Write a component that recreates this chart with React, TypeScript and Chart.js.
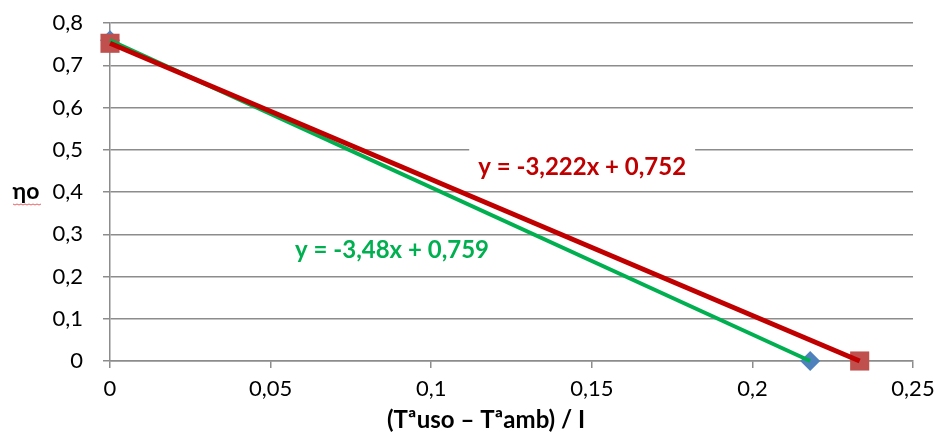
import React, { useEffect, useRef } from "react";
import { Chart, registerables } from "chart.js";

Chart.register(...registerables);

// Measured points (series 1: blue diamonds, series 2: red squares)
const blueX = [0, 0.218];
const blueY = [0.759, 0];
const redX = [0, 0.2334];
const redY = [0.752, 0];

// Linear trendlines (endpoints)
const greenLineX = [0, 0.218];
const greenLineY = [0.759, 0];
const redLineX = [0, 0.2334];
const redLineY = [0.752, 0];

const redEquation = "y = -3,222x + 0,752";
const greenEquation = "y = -3,48x + 0,759";
const redEqPos = [0.147, 0.459];
const greenEqPos = [0.0878, 0.263];

const xTitle = "(Tªuso – Tªamb) / I";
const yTitle = "ηo";

const FONT = "Lato, 'Liberation Sans', sans-serif";

const pts = (xs: number[], ys: number[]) => xs.map((x, i) => ({ x, y: ys[i] }));

const overlayPlugin = {
  id: "overlay",
  afterDatasetsDraw(chart: any) {
    const ctx = chart.ctx;
    const xs = chart.scales.x;
    const ys = chart.scales.y;
    ctx.save();
    // red equation with white box
    const rx = xs.getPixelForValue(redEqPos[0]);
    const ry = ys.getPixelForValue(redEqPos[1]);
    ctx.font = `bold 24px ${FONT}`;
    const rw = ctx.measureText(redEquation).width;
    ctx.fillStyle = "#ffffff";
    ctx.fillRect(rx - rw / 2 - 9, ry - 20, rw + 18, 38);
    ctx.fillStyle = "#c00000";
    ctx.textAlign = "center";
    ctx.textBaseline = "middle";
    ctx.fillText(redEquation, rx, ry);
    // green equation
    const gx = xs.getPixelForValue(greenEqPos[0]);
    const gy = ys.getPixelForValue(greenEqPos[1]);
    ctx.fillStyle = "#00b050";
    ctx.fillText(greenEquation, gx, gy);
    // y title (horizontal)
    ctx.fillStyle = "#000000";
    ctx.font = `bold 23px ${FONT}`;
    ctx.fillText(yTitle, 26, 192);
    // x title
    ctx.font = `bold 24px ${FONT}`;
    ctx.fillText(xTitle, 486, 420);
    // spell-check squiggle
    ctx.strokeStyle = "rgba(220,60,60,0.8)";
    ctx.lineWidth = 1;
    ctx.beginPath();
    for (let x = 13; x <= 41; x += 2) {
      const y = 204 + ((x - 13) % 4 === 0 ? 0 : 1);
      if (x === 13) ctx.moveTo(x, y);
      else ctx.lineTo(x, y);
    }
    ctx.stroke();
    ctx.restore();
  },
};

export default function App() {
  const ref = useRef<HTMLCanvasElement>(null);
  useEffect(() => {
    document.body.style.margin = "0";
    if (!ref.current) return;
    const chart = new Chart(ref.current, {
      type: "scatter",
      data: {
        datasets: [
          {
            label: "Lineal (red)",
            data: pts(redLineX, redLineY),
            showLine: true,
            borderColor: "#c00000",
            borderWidth: 5,
            pointRadius: 0,
            clip: false,
            order: 1,
          },
          {
            label: "Lineal (green)",
            data: pts(greenLineX, greenLineY),
            showLine: true,
            borderColor: "#00b050",
            borderWidth: 4,
            pointRadius: 0,
            clip: false,
            order: 2,
          },
          {
            label: "Serie 2",
            data: pts(redX, redY),
            pointStyle: "rect",
            pointRadius: 13.5,
            backgroundColor: "#c0504d",
            borderColor: "#c0504d",
            borderWidth: 0,
            clip: false,
            order: 3,
          },
          {
            label: "Serie 1",
            data: pts(blueX, blueY),
            pointStyle: "rectRot",
            pointRadius: 10,
            backgroundColor: "#4f81bd",
            borderColor: "#4f81bd",
            borderWidth: 0,
            clip: false,
            order: 4,
          },
        ],
      },
      options: {
        animation: false,
        responsive: false,
        maintainAspectRatio: false,
        layout: { padding: { left: 0, right: 27, top: 23, bottom: 0 } },
        plugins: {
          legend: { display: false },
          tooltip: { enabled: false },
        },
        scales: {
          x: {
            type: "linear",
            min: 0,
            max: 0.25,
            ticks: {
              stepSize: 0.05,
              color: "#000",
              font: { family: FONT, size: 22 },
              padding: 8,
              maxRotation: 0,
              callback: (v: any) => String(Number(v.toFixed(2))).replace(".", ","),
            },
            grid: {
              drawOnChartArea: false,
              drawTicks: true,
              tickLength: 7,
              color: "#8c8c8c",
              lineWidth: 1.5,
            },
            border: { display: true, color: "#8c8c8c", width: 1.5 },
            afterFit: (s: any) => {
              s.height = 73;
              s.paddingLeft = 0;
              s.paddingRight = 0;
            },
          },
          y: {
            type: "linear",
            min: 0,
            max: 0.8,
            ticks: {
              stepSize: 0.1,
              color: "#000",
              font: { family: FONT, size: 22 },
              padding: 20,
              callback: (v: any) => String(Number(v.toFixed(1))).replace(".", ","),
            },
            grid: {
              drawOnChartArea: true,
              drawTicks: true,
              tickLength: 7,
              color: "#8c8c8c",
              lineWidth: 1.5,
            },
            border: { display: true, color: "#8c8c8c", width: 1.5 },
            afterFit: (s: any) => {
              s.width = 110;
              s.paddingTop = 0;
              s.paddingBottom = 0;
            },
          },
        },
      },
      plugins: [overlayPlugin],
    });
    return () => chart.destroy();
  }, []);
  return (
    <div style={{ position: "absolute", left: 0, top: 0, width: 940, height: 434, background: "#fff" }}>
      <canvas ref={ref} width={940} height={434} style={{ width: 940, height: 434 }} />
    </div>
  );
}
